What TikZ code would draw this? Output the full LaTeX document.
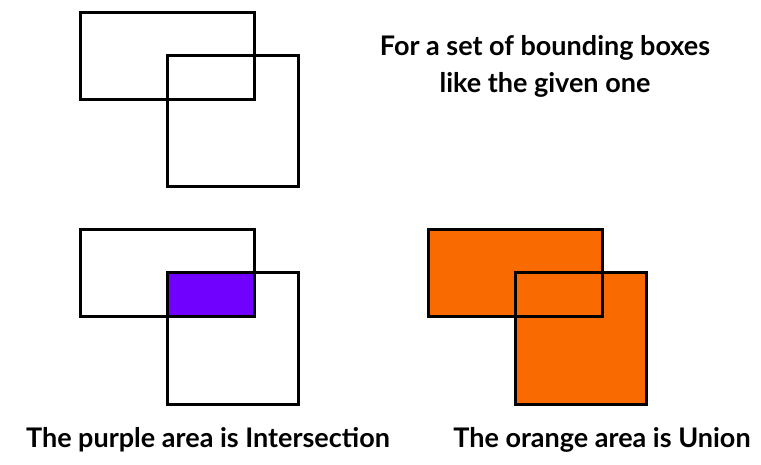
\documentclass[tikz,border=0pt]{standalone}
\usepackage{fontspec}
\setmainfont{Lato}[UprightFont=* Bold]
\definecolor{boxorange}{HTML}{F96A00}
\definecolor{boxpurple}{HTML}{7001FF}
\begin{document}
\begin{tikzpicture}[x=1pt,y=-1pt, line join=miter, font=\fontsize{27}{37}\selectfont]
	\tikzset{bbox/.style={draw=black,line width=3pt}}
	\useasboundingbox (0,0) rectangle (761,465);
	% top pair
	\draw[bbox] (80,13) rectangle (254,100);
	\draw[bbox] (167,56) rectangle (298,187);
	\node (given) at (545,66) [align=center]{For a set of bounding boxes\\like the given one};
	% intersection
	\fill[boxpurple] (167,273) rectangle (254,317);
	\draw[bbox] (80,230) rectangle (254,317);
	\draw[bbox] (167,273) rectangle (298,404);
	\node (inter) at (208,440) {The purple area is Intersection};
	% union
	\fill[boxorange] (428,230) rectangle (602,317) (515,273) rectangle (646,404);
	\draw[bbox] (428,230) rectangle (602,317);
	\draw[bbox] (515,273) rectangle (646,404);
	\node (union) at (602,440) {The orange area is Union};
\end{tikzpicture}
\end{document}
